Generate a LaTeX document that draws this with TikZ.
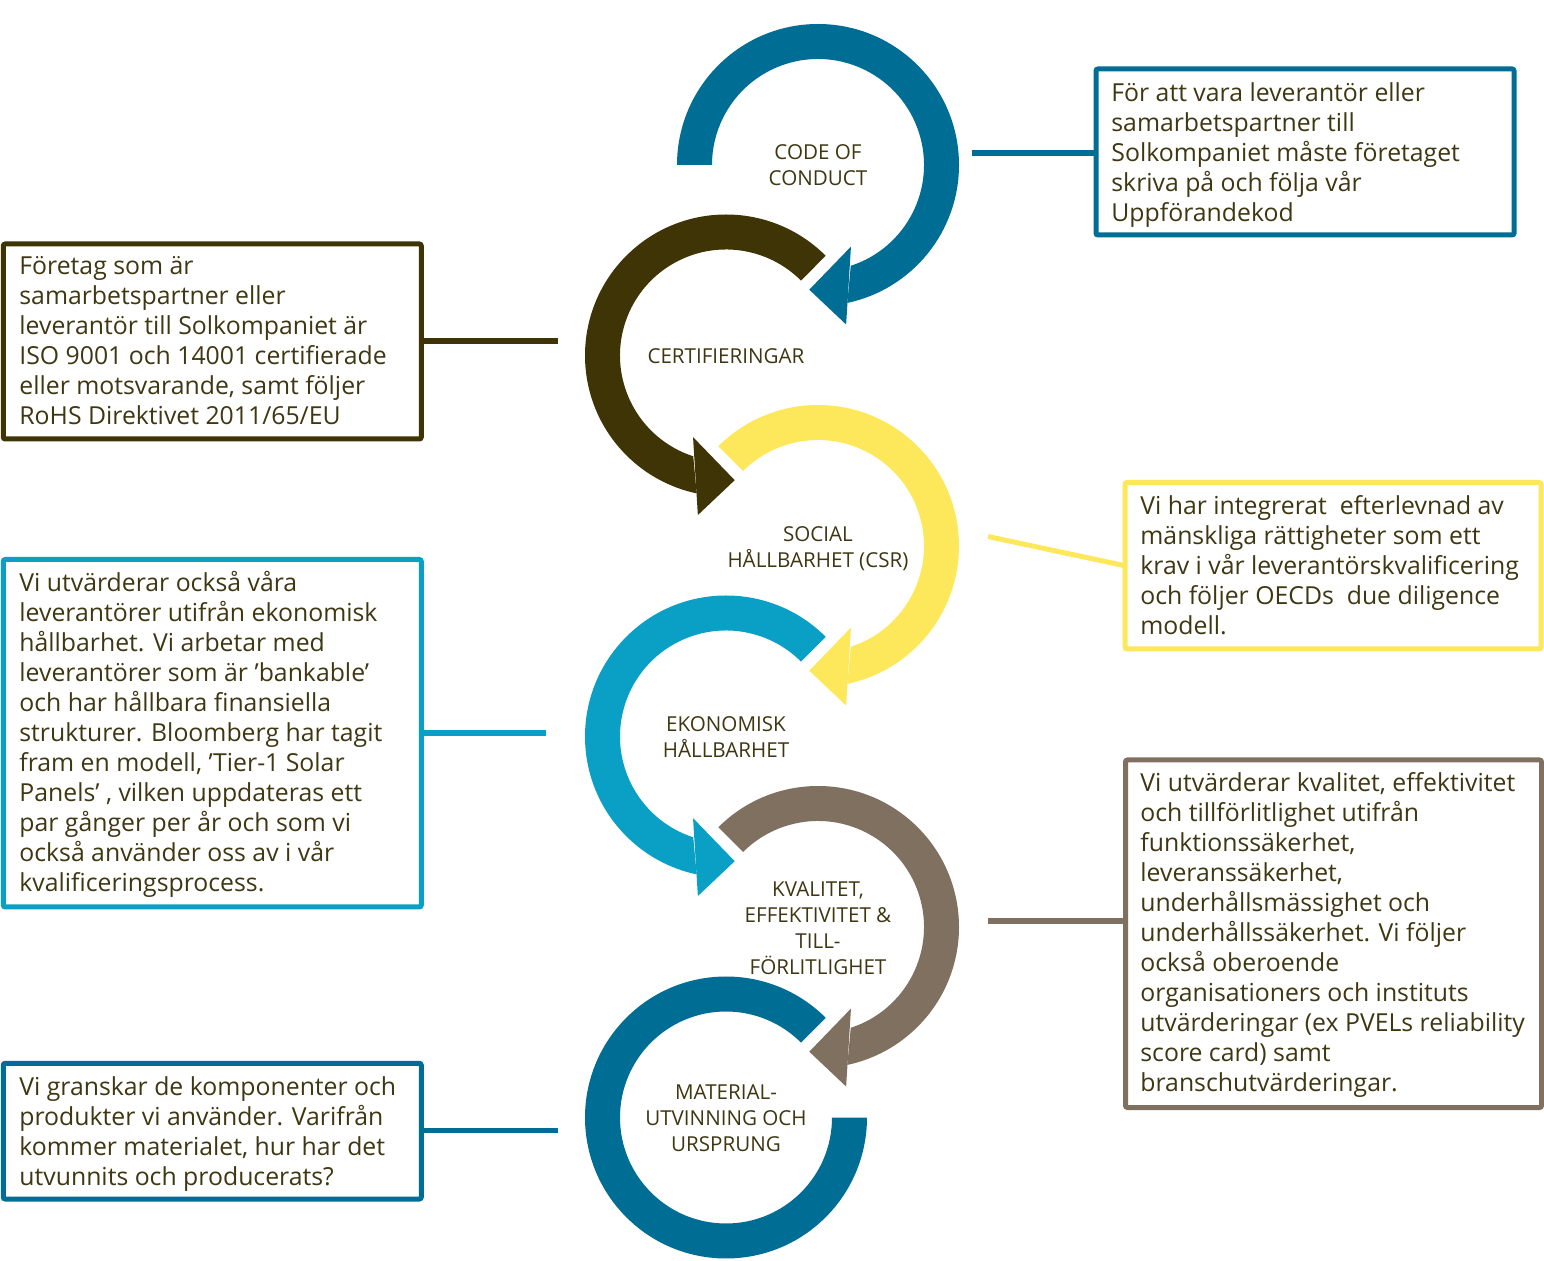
\documentclass[tikz,border=0pt]{standalone}
\usepackage{fontspec}
\setmainfont{Open Sans}
\usetikzlibrary{calc}
\definecolor{cblue}{RGB}{0,109,148}
\definecolor{colive}{RGB}{62,52,6}
\definecolor{cyel}{RGB}{253,232,92}
\definecolor{ccyan}{RGB}{10,159,196}
\definecolor{ctaupe}{RGB}{127,112,96}
\definecolor{ctext}{RGB}{62,55,18}
\newcommand\ringcw[3]{%
  \fill[#3] ($(#1)+(#2:141)$) arc[start angle=#2, end angle=-78, radius=141]
    -- ($(#1)+(-72:106)$) arc[start angle=-72, end angle=#2, radius=106] -- cycle;
  \fill[#3] ($(#1)+(-68:88)$) -- ($(#1)+(-94:125)$) -- ($(#1)+(-80:162)$) -- cycle;
}
\newcommand\ringccw[2]{%
  \fill[#2] ($(#1)+(45:141)$) arc[start angle=45, end angle=258, radius=141]
    -- ($(#1)+(252:106)$) arc[start angle=252, end angle=45, radius=106] -- cycle;
  \fill[#2] ($(#1)+(248:88)$) -- ($(#1)+(274:125)$) -- ($(#1)+(260:162)$) -- cycle;
}
\begin{document}
\begin{tikzpicture}[x=0.5pt,y=0.5pt,
  box/.style={draw, line width=2.5pt, rounded corners=1pt, inner sep=0pt, outer sep=0pt, anchor=north west},
  boxtext/.style={anchor=north west, inner sep=0pt, align=left, text=ctext,
    font=\fontsize{12.4}{15}\selectfont},
  ringlabel/.style={anchor=north, align=center, text=ctext, inner sep=0pt,
    font=\fontsize{10.3}{13}\selectfont},
  link/.style={line width=2.75pt}]
\useasboundingbox (0,0) rectangle (1544,-1261);

% ring centres
\coordinate (r1) at (818,-165);
\coordinate (r2) at (726,-355.5);
\coordinate (r3) at (818,-546);
\coordinate (r4) at (726,-736.5);
\coordinate (r5) at (818,-927);
\coordinate (r6) at (726,-1117.5);

% rings
\ringcw{r1}{180}{cblue}
\ringccw{r2}{colive}
\ringcw{r3}{135}{cyel}
\ringccw{r4}{ccyan}
\ringcw{r5}{135}{ctaupe}
\fill[cblue] ($(r6)+(45:141)$) arc[start angle=45, end angle=360, radius=141]
  -- ($(r6)+(0:106)$) arc[start angle=360, end angle=45, radius=106] -- cycle;

% ring labels
\node[ringlabel] (l1) at (818,-139.35) {\rule{0pt}{10pt}CODE OF\\CONDUCT};
\node[ringlabel] (l2) at (726,-342.85) {\rule{0pt}{10pt}CERTIFIERINGAR};
\node[ringlabel] (l3) at (818,-521.35) {\rule{0pt}{10pt}SOCIAL\\HÅLLBARHET (CSR)};
\node[ringlabel] (l4) at (726,-711.35) {\rule{0pt}{10pt}EKONOMISK\\HÅLLBARHET};
\node[ringlabel] (l5) at (818,-875.85) {\rule{0pt}{10pt}KVALITET,\\EFFEKTIVITET \&\\TILL-\\FÖRLITLIGHET};
\node[ringlabel] (l6) at (726,-1079.35) {\rule{0pt}{10pt}MATERIAL-\\UTVINNING OCH\\URSPRUNG};

% boxes
\node[box, draw=cblue, minimum width=209pt, minimum height=83pt] (b1) at (1096,-69) {};
\node[box, draw=colive, minimum width=209pt, minimum height=97.5pt] (b2) at (3.3,-244) {};
\node[box, draw=cyel, minimum width=208pt, minimum height=83.25pt] (b3) at (1125,-482.5) {};
\node[box, draw=ccyan, minimum width=209pt, minimum height=173.75pt] (b4) at (3.3,-559.5) {};
\node[box, draw=ctaupe, minimum width=208pt, minimum height=173.75pt] (b5) at (1125.5,-760) {};
\node[box, draw=cblue, minimum width=209pt, minimum height=67.85pt] (b6) at (3.3,-1063.3) {};

% box texts
\node[boxtext] (t1) at (1111,-77) {\rule{0pt}{12pt}För att vara leverantör eller\\samarbetspartner till\\Solkompaniet måste företaget\\skriva på och följa vår\\Uppförandekod};
\node[boxtext] (t2) at (19,-250) {\rule{0pt}{12pt}Företag som är\\samarbetspartner eller\\leverantör till Solkompaniet är\\ISO 9001 och 14001 certifierade\\eller motsvarande, samt följer\\RoHS Direktivet 2011/65/EU};
\node[boxtext] (t3) at (1140,-490) {\rule{0pt}{12pt}Vi har integrerat\ \ efterlevnad av\\mänskliga rättigheter som ett\\krav i vår leverantörskvalificering\\och följer OECDs\ \ due diligence\\modell.};
\node[boxtext] (t4) at (19,-567) {\rule{0pt}{12pt}Vi utvärderar också våra\\leverantörer utifrån ekonomisk\\hållbarhet. Vi arbetar med\\leverantörer som är ’bankable’\\och har hållbara finansiella\\strukturer. Bloomberg har tagit\\fram en modell, ’Tier-1 Solar\\Panels’ , vilken uppdateras ett\\par gånger per år och som vi\\också använder oss av i vår\\kvalificeringsprocess.};
\node[boxtext] (t5) at (1140,-767) {\rule{0pt}{12pt}Vi utvärderar kvalitet, effektivitet\\och tillförlitlighet utifrån\\funktionssäkerhet,\\leveranssäkerhet,\\underhållsmässighet och\\underhållssäkerhet. Vi följer\\också oberoende\\organisationers och instituts\\utvärderingar (ex PVELs reliability\\score card) samt\\branschutvärderingar.};
\node[boxtext] (t6) at (19,-1071) {\rule{0pt}{12pt}Vi granskar de komponenter och\\produkter vi använder. Varifrån\\kommer materialet, hur har det\\utvunnits och producerats?};

% connectors
\coordinate (c1) at (972,-153);
\coordinate (c2) at (558,-341);
\coordinate (c3) at (988,-536.5);
\coordinate (c4) at (546,-733);
\coordinate (c5) at (988,-921);
\coordinate (c6) at (558,-1130.5);
\draw[link, cblue] (c1) -- (c1 -| b1.west);
\draw[link, colive] (c2) -- (c2 -| b2.east);
\draw[link, cyel, line width=2.5pt] (c3) -- (b3.west);
\draw[link, ccyan] (c4) -- (c4 -| b4.east);
\draw[link, ctaupe] (c5) -- (c5 -| b5.west);
\draw[link, cblue] (c6) -- (c6 -| b6.east);
\end{tikzpicture}
\end{document}
